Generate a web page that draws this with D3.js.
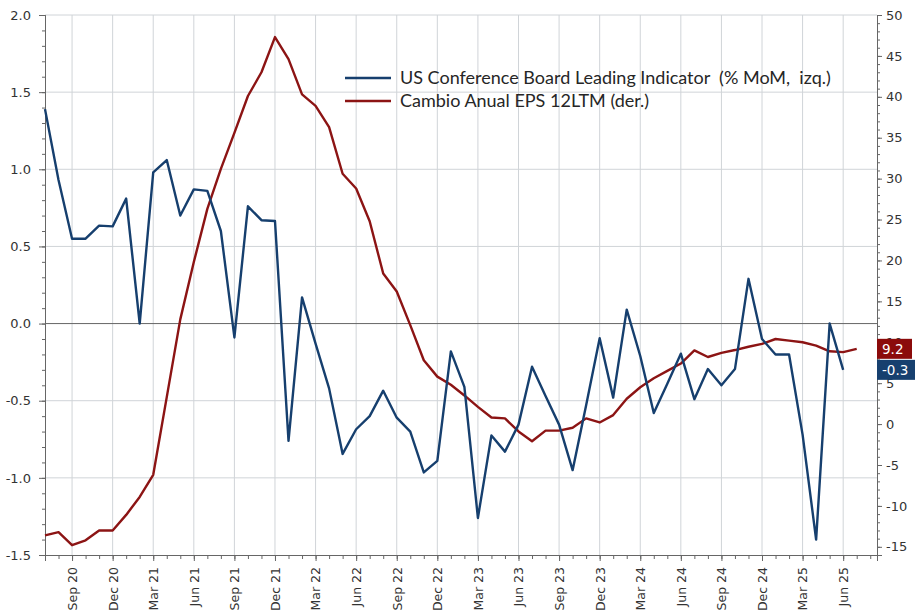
<!DOCTYPE html>
<html><head><meta charset="utf-8">
<script src="https://cdn.jsdelivr.net/npm/d3@7"></script>
<style>body{margin:0;background:#fff} text{font-family:"DejaVu Sans",sans-serif}</style>
</head><body><svg id="c" width="915" height="615"></svg>
<script>
const months = [
 "Jul 20","Aug 20","Sep 20","Oct 20","Nov 20","Dec 20",
 "Jan 21","Feb 21","Mar 21","Apr 21","May 21","Jun 21","Jul 21","Aug 21","Sep 21","Oct 21","Nov 21","Dec 21",
 "Jan 22","Feb 22","Mar 22","Apr 22","May 22","Jun 22","Jul 22","Aug 22","Sep 22","Oct 22","Nov 22","Dec 22",
 "Jan 23","Feb 23","Mar 23","Apr 23","May 23","Jun 23","Jul 23","Aug 23","Sep 23","Oct 23","Nov 23","Dec 23",
 "Jan 24","Feb 24","Mar 24","Apr 24","May 24","Jun 24","Jul 24","Aug 24","Sep 24","Oct 24","Nov 24","Dec 24",
 "Jan 25","Feb 25","Mar 25","Apr 25","May 25","Jun 25","Jul 25"];
const leiValues = [1.39,0.93,0.55,0.55,0.635,0.63,0.81,0.0,0.98,1.06,
 0.70,0.87,0.86,0.60,-0.09,0.76,0.67,0.665,-0.76,0.17,
 -0.13,-0.42,-0.845,-0.685,-0.60,-0.435,-0.61,-0.70,-0.965,-0.89,
 -0.18,-0.41,-1.26,-0.725,-0.83,-0.655,-0.28,-0.47,-0.655,-0.95,
 -0.53,-0.095,-0.48,0.09,-0.21,-0.58,-0.39,-0.195,-0.49,-0.295,
 -0.40,-0.295,0.29,-0.10,-0.20,-0.20,-0.72,-1.40,0.0,-0.30];
const epsValues = [-13.6,-13.2,-14.8,-14.2,-13.0,-13.0,-11.1,-8.9,-6.2,3.3,
 12.8,19.8,26.3,31.2,35.6,40.1,43.0,47.3,44.6,40.3,
 38.9,36.3,30.6,28.8,24.8,18.4,16.2,12.1,7.8,5.8,
 4.8,3.5,2.1,0.8,0.7,-0.9,-2.1,-0.8,-0.8,-0.45,
 0.7,0.2,1.1,3.1,4.5,5.6,6.5,7.4,9.0,8.2,
 8.7,9.05,9.45,9.8,10.4,10.2,10.0,9.6,8.9,8.8,
 9.2];
const leftTicks = [-1.5,-1.0,-0.5,0.0,0.5,1.0,1.5,2.0];
const rightTicks = [-15,-10,-5,0,5,10,15,20,25,30,35,40,45,50];
const seriesNames = ["US Conference Board Leading Indicator  (% MoM,  izq.)","Cambio Anual EPS 12LTM (der.)"];
const seriesColors = ["#163F6E","#8C1414"];
const boxColors = ["#17406F","#8B0B0B"];

const svg = d3.select("#c");
svg.append("rect").attr("width",915).attr("height",615).attr("fill","#fff");
const L=45,R=877,T=15,B=555;
const x = d3.scaleLinear().domain([0,61.5]).range([L,R]);
const yL = d3.scaleLinear().domain([-1.5,2]).range([B,T]);
const yR = d3.scaleLinear().domain([-16,50]).range([B,T]);
const quarterIdx = months.map((m,i)=>[m,i]).filter(d=>/^(Mar|Jun|Sep|Dec)/.test(d[0])).map(d=>d[1]);

const grid = svg.append("g");
grid.selectAll(".hg").data(leftTicks.filter(d=>d>-1.5 && d!==0)).join("line")
  .attr("x1",L).attr("x2",R).attr("y1",d=>yL(d)).attr("y2",d=>yL(d))
  .attr("stroke","#d0d4d8").attr("stroke-width",1);
grid.selectAll(".vg").data(quarterIdx).join("line")
  .attr("x1",d=>x(d)).attr("x2",d=>x(d)).attr("y1",T).attr("y2",B)
  .attr("stroke","#d0d4d8").attr("stroke-width",1);
svg.append("line").attr("x1",L).attr("x2",R).attr("y1",yL(0)).attr("y2",yL(0))
  .attr("stroke","#666").attr("stroke-width",1);

function styleAxis(g){
  g.selectAll("path").attr("stroke","#666");
  g.selectAll("line").attr("stroke","#666");
  g.selectAll("text").attr("fill","#333").style("font-size","13px");
}
// minor ticks
svg.append("g").attr("transform",`translate(${L},0)`)
  .call(d3.axisLeft(yL).tickValues(d3.range(-15,21,1).map(d=>d/10)).tickSize(3).tickFormat(""))
  .call(styleAxis);
svg.append("g").attr("transform",`translate(${L},0)`)
  .call(d3.axisLeft(yL).tickValues(leftTicks).tickSize(6).tickPadding(8).tickFormat(d=>d.toFixed(1)))
  .call(styleAxis);
svg.append("g").attr("transform",`translate(${R},0)`)
  .call(d3.axisRight(yR).tickValues(d3.range(-16,51,1)).tickSize(3).tickFormat(""))
  .call(styleAxis);
svg.append("g").attr("transform",`translate(${R},0)`)
  .call(d3.axisRight(yR).tickValues(rightTicks).tickSize(5).tickPadding(4).tickFormat(d=>String(d)))
  .call(styleAxis);
svg.append("g").attr("transform",`translate(0,${B})`)
  .call(d3.axisBottom(x).tickValues(d3.range(0,62)).tickSize(4).tickFormat(""))
  .call(styleAxis);
const xa = svg.append("g").attr("transform",`translate(0,${B})`)
  .call(d3.axisBottom(x).tickValues(quarterIdx).tickSize(6).tickFormat(i=>months[i]))
  .call(styleAxis);
xa.selectAll("text").style("font-size","12.5px").attr("transform","rotate(-90)")
  .attr("x",-12).attr("y",0).attr("dy","0.35em").attr("text-anchor","end");

const line1 = d3.line().x((d,i)=>x(i)).y(d=>yL(d));
const line2 = d3.line().x((d,i)=>x(i)).y(d=>yR(d));
svg.append("path").attr("d",line2(epsValues)).attr("fill","none")
  .attr("stroke",seriesColors[1]).attr("stroke-width",2.4).attr("stroke-linejoin","round");
svg.append("path").attr("d",line1(leiValues)).attr("fill","none")
  .attr("stroke",seriesColors[0]).attr("stroke-width",2.4).attr("stroke-linejoin","round");

// legend
const lg = svg.append("g");
seriesNames.forEach((n,i)=>{
  const yy = 78 + i*23;
  lg.append("line").attr("x1",345).attr("x2",391).attr("y1",yy).attr("y2",yy)
    .attr("stroke",seriesColors[i]).attr("stroke-width",2.4);
  lg.append("text").attr("x",400).attr("y",yy).attr("dy","0.35em")
    .style("font-family","Lato, sans-serif").style("font-size","18px").style("white-space","pre")
    .attr("fill","#262626").text(n);
});

// end value boxes
const lastEps = epsValues[epsValues.length-1];
const lastLei = leiValues[leiValues.length-1];
const boxes = [
  {v:lastEps, y:yR(lastEps), c:boxColors[1], w:35},
  {v:lastLei, y:yL(lastLei), c:boxColors[0], w:38}
];
boxes.forEach(b=>{
  svg.append("rect").attr("x",R).attr("y",b.y-10).attr("width",b.w).attr("height",20).attr("fill",b.c);
  svg.append("text").attr("x",R+5).attr("y",b.y).attr("dy","0.36em").attr("fill","#fff")
    .style("font-size","13.5px").text(b.v.toFixed(1));
});
</script></body></html>
